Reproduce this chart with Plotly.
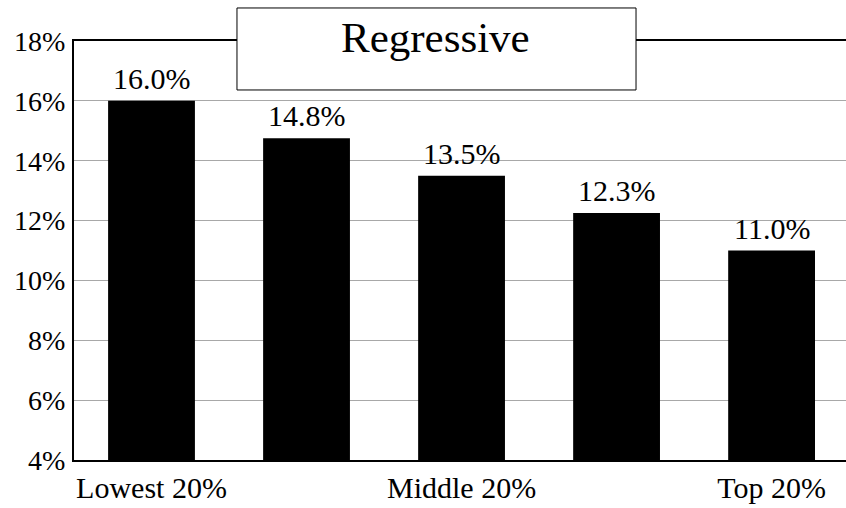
import plotly.graph_objects as go

# Tax burden as share of income, by income quintile
quintiles = ['Lowest 20%', 'Second 20%', 'Middle 20%', 'Fourth 20%', 'Top 20%']
tax_share = [16.0, 14.75, 13.5, 12.25, 11.0]
bar_labels = ['16.0%', '14.8%', '13.5%', '12.3%', '11.0%']
tick_text = ['Lowest 20%', '', 'Middle 20%', '', 'Top 20%']
y_ticks = [4, 6, 8, 10, 12, 14, 16, 18]
y_tick_text = ['4%', '6%', '8%', '10%', '12%', '14%', '16%', '18%']

FONT = 'Liberation Serif, Times New Roman, Times, serif'

fig = go.Figure()
fig.add_trace(go.Bar(x=quintiles, y=tax_share, cliponaxis=False,
                     marker=dict(color='black', line=dict(width=0)),
                     showlegend=False))

# value labels sitting just above each bar
labels = [dict(x=q, y=v, text=t, xref='x', yref='y', showarrow=False,
               xanchor='center', yanchor='bottom', yshift=4,
               font=dict(family=FONT, size=30, color='black'))
          for q, v, t in zip(quintiles, tax_share, bar_labels)]

# title in its white box straddling the top frame line
labels.append(dict(text='Regressive', xref='paper', yref='paper',
                   x=0.4689, y=1.008, xanchor='center', yanchor='middle',
                   showarrow=False, font=dict(family=FONT, size=43, color='black')))

fig.update_layout(
    width=846, height=508,
    margin=dict(l=74, r=0, t=41, b=48),
    paper_bgcolor='white', plot_bgcolor='white',
    font=dict(family=FONT, size=28, color='black'),
    bargap=0.44,
    annotations=labels,
    shapes=[dict(type='rect', xref='paper', yref='paper',
                 x0=0.2111, x1=0.7280, y0=0.8831, y1=1.0788,
                 fillcolor='white', line=dict(color='black', width=1),
                 layer='above')],
)

fig.update_xaxes(range=[-0.5, 4.48], tickvals=quintiles, ticktext=tick_text,
                 showline=True, linecolor='black', linewidth=2, mirror=True,
                 showgrid=False, ticks='', tickfont=dict(size=30))
fig.update_yaxes(range=[4, 18], tickvals=y_ticks, ticktext=y_tick_text,
                 showline=True, linecolor='black', linewidth=2,
                 showgrid=True, gridcolor='#a8a8a8', gridwidth=1,
                 zeroline=False, ticks='', ticklabelstandoff=1)

# page body has a default 8px margin, drop it so the figure sits at 0,0
fig.write_html('out.html', config={'displayModeBar': False},
               post_script="document.body.style.margin='0';")
